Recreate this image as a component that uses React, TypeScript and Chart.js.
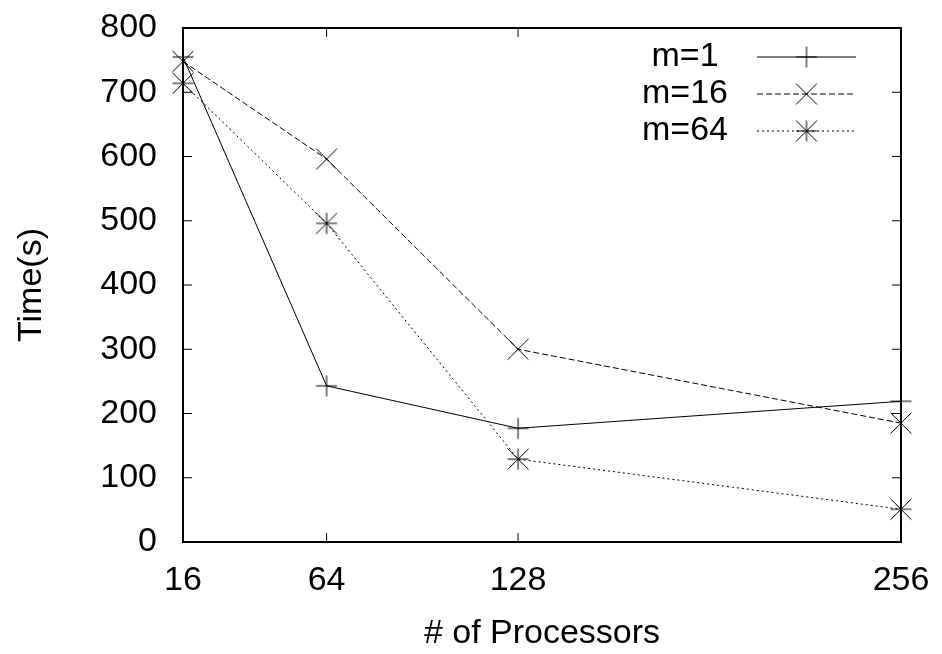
import React, { useEffect, useRef } from "react";
import { Chart, registerables } from "chart.js";

Chart.register(...registerables);

// ---- data ----
const processors: number[] = [16, 64, 128, 256];
const xTickValues: number[] = [16, 64, 128, 256];
const seriesLabels: string[] = ["m=1", "m=16", "m=64"];
const timeM1: number[] = [755, 243, 177, 219];
const timeM16: number[] = [748, 596, 300, 185];
const timeM64: number[] = [714, 496, 129, 51];
const yMin = 0;
const yMax = 800;
const yStep = 100;
const xTitle = "# of Processors";
const yTitle = "Time(s)";

const FONT = "'Liberation Sans', Arial, Helvetica, sans-serif";
const FONT_SIZE = 34;

type MarkKind = "plus" | "cross" | "star";

function makeMarker(kind: MarkKind): HTMLCanvasElement {
  const c = document.createElement("canvas");
  c.width = 24;
  c.height = 24;
  const g = c.getContext("2d")!;
  const m = 12;
  const a = 10.5;
  g.strokeStyle = "#000";
  g.lineWidth = 1;
  g.beginPath();
  if (kind === "plus" || kind === "star") {
    g.moveTo(m - a, m);
    g.lineTo(m + a, m);
    g.moveTo(m, m - a);
    g.lineTo(m, m + a);
  }
  if (kind === "cross" || kind === "star") {
    g.moveTo(m - a, m - a);
    g.lineTo(m + a, m + a);
    g.moveTo(m - a, m + a);
    g.lineTo(m + a, m - a);
  }
  g.stroke();
  return c;
}

export default function App() {
  const ref = useRef<HTMLCanvasElement | null>(null);

  useEffect(() => {
    if (!ref.current) return;
    const markers = [makeMarker("plus"), makeMarker("cross"), makeMarker("star")];
    const dashes: number[][] = [[], [6, 3], [2, 3]];
    const values = [timeM1, timeM16, timeM64];

    const datasets = seriesLabels.map((label, i) => ({
      label,
      data: processors.map((x, j) => ({ x, y: values[i][j] })),
      borderColor: "#000",
      backgroundColor: "#000",
      borderWidth: 1,
      borderDash: dashes[i],
      pointStyle: markers[i] as any,
      pointRadius: 11,
      pointHoverRadius: 11,
      tension: 0,
      fill: false,
      clip: false as any,
    }));

    const framePlugin = {
      id: "gnuplotFrame",
      beforeDatasetsDraw(chart: any) {
        const { ctx, chartArea } = chart;
        const { left, right, top, bottom } = chartArea;
        const xs = chart.scales.x;
        const ys = chart.scales.y;
        ctx.save();
        ctx.strokeStyle = "#000";
        ctx.lineWidth = 1;
        ctx.beginPath();
        const tl = 9;
        for (let v = yMin; v <= yMax; v += yStep) {
          const y = ys.getPixelForValue(v);
          ctx.moveTo(left, y);
          ctx.lineTo(left + tl, y);
          ctx.moveTo(right, y);
          ctx.lineTo(right - tl, y);
        }
        for (const v of xTickValues) {
          const x = xs.getPixelForValue(v);
          ctx.moveTo(x, bottom);
          ctx.lineTo(x, bottom - tl);
          ctx.moveTo(x, top);
          ctx.lineTo(x, top + tl);
        }
        ctx.stroke();
        ctx.lineWidth = 2;
        ctx.strokeRect(left, top, right - left, bottom - top);
        ctx.restore();
      },
      afterDraw(chart: any) {
        const { ctx } = chart;
        ctx.save();
        ctx.font = `${FONT_SIZE}px ${FONT}`;
        ctx.fillStyle = "#000";
        ctx.textAlign = "center";
        ctx.textBaseline = "middle";
        const rowY = [57, 94, 131];
        const textX = 685;
        const lineX0 = 757;
        const lineX1 = 856;
        chart.data.datasets.forEach((ds: any, i: number) => {
          const y = rowY[i];
          ctx.fillText(ds.label, textX, y);
          ctx.strokeStyle = "#000";
          ctx.lineWidth = 1;
          ctx.setLineDash(ds.borderDash || []);
          ctx.beginPath();
          ctx.moveTo(lineX0, y);
          ctx.lineTo(lineX1, y);
          ctx.stroke();
          ctx.setLineDash([]);
          const img = ds.pointStyle as HTMLCanvasElement;
          const mx = (lineX0 + lineX1) / 2;
          ctx.drawImage(img, mx - img.width / 2, y - img.height / 2);
        });
        ctx.restore();
      },
    };

    const chart = new Chart(ref.current, {
      type: "line",
      data: { datasets: datasets as any },
      options: {
        animation: false,
        responsive: false,
        devicePixelRatio: 1,
        layout: { autoPadding: false, padding: { top: 28, right: 41, bottom: 0, left: 0 } },
        plugins: {
          legend: { display: false },
          tooltip: { enabled: false },
        },
        scales: {
          x: {
            type: "linear",
            min: 16,
            max: 256,
            grid: { display: false, drawTicks: false },
            border: { display: false },
            afterBuildTicks: (scale: any) => {
              scale.ticks = xTickValues.map((v) => ({ value: v }));
            },
            afterFit: (scale: any) => {
              scale.height = 112;
              scale.paddingLeft = 0;
              scale.paddingRight = 0;
            },
            ticks: {
              autoSkip: false,
              maxRotation: 0,
              minRotation: 0,
              padding: 18,
              color: "#000",
              font: { family: FONT, size: FONT_SIZE },
              callback: (v: any) => String(v),
            },
            title: {
              display: true,
              text: xTitle,
              color: "#000",
              font: { family: FONT, size: FONT_SIZE },
              padding: { top: 0, bottom: 0 },
            },
          },
          y: {
            type: "linear",
            min: yMin,
            max: yMax,
            grid: { display: false, drawTicks: false },
            border: { display: false },
            afterFit: (scale: any) => {
              scale.width = 183;
              scale.paddingTop = 0;
              scale.paddingBottom = 0;
            },
            ticks: {
              stepSize: yStep,
              padding: 26,
              color: "#000",
              font: { family: FONT, size: FONT_SIZE },
            },
            title: {
              display: true,
              text: yTitle,
              color: "#000",
              font: { family: FONT, size: FONT_SIZE },
              padding: { top: 11, bottom: 0 },
            },
          },
        },
      },
      plugins: [framePlugin],
    });

    return () => chart.destroy();
  }, []);

  return (
    <div style={{ position: "absolute", left: 0, top: 0, width: 942, height: 654, background: "#fff" }}>
      <canvas ref={ref} width={942} height={654} />
    </div>
  );
}
